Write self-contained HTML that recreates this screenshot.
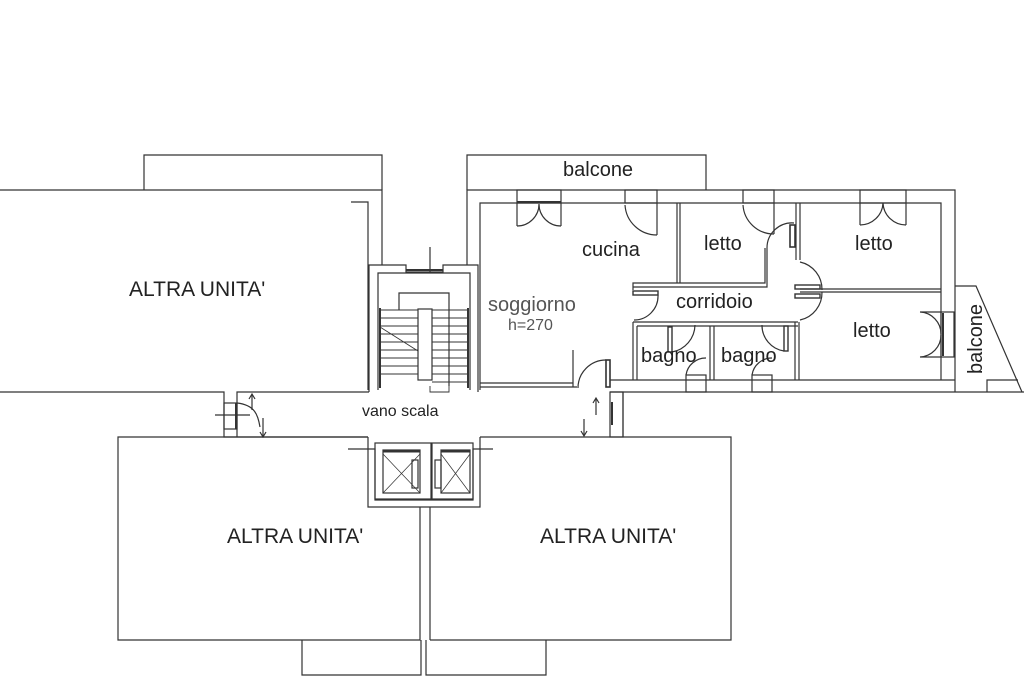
<!DOCTYPE html>
<html><head><meta charset="utf-8"><style>
html,body{margin:0;padding:0;background:#fff}
svg{display:block}
text{font-family:"Liberation Sans",sans-serif;fill:#222}
</style></head><body>
<svg width="1024" height="682" viewBox="0 0 1024 682" xmlns="http://www.w3.org/2000/svg">
<g fill="none" stroke="#333" stroke-width="1.2">
<polyline points="144,190 144,155 382,155 382,190"/>
<polyline points="0,190 382,190 382,265"/>
<polyline points="351,202 368,202 368,390"/>
<polyline points="0,392 224,392 224,437 237,437"/>
<polyline points="237,437 237,392 369,392"/>
<polyline points="369,392 369,265 406,265 406,272 443,272 443,265 478,265 478,392"/>
<line x1="430" y1="247" x2="430" y2="272"/>
<line x1="406" y1="270" x2="443" y2="270" stroke-width="2"/>
<polyline points="378,390 378,273 470,273 470,390"/>
<polyline points="399,310 399,293 449,293 449,386"/>
<rect x="418" y="309" width="14" height="71"/>
<line x1="380" y1="308" x2="380" y2="388" stroke-width="2"/>
<line x1="468" y1="308" x2="468" y2="388" stroke-width="2"/>
<g stroke-width="0.9">
<line x1="380" y1="310" x2="418" y2="310"/><line x1="380" y1="318" x2="418" y2="318"/><line x1="380" y1="326" x2="418" y2="326"/><line x1="380" y1="334" x2="418" y2="334"/><line x1="380" y1="342" x2="418" y2="342"/><line x1="380" y1="350" x2="418" y2="350"/><line x1="380" y1="358" x2="418" y2="358"/><line x1="380" y1="366" x2="418" y2="366"/><line x1="380" y1="374" x2="418" y2="374"/>
<line x1="432" y1="310" x2="468" y2="310"/><line x1="432" y1="318" x2="468" y2="318"/><line x1="432" y1="326" x2="468" y2="326"/><line x1="432" y1="334" x2="468" y2="334"/><line x1="432" y1="342" x2="468" y2="342"/><line x1="432" y1="350" x2="468" y2="350"/><line x1="432" y1="358" x2="468" y2="358"/><line x1="432" y1="366" x2="468" y2="366"/><line x1="432" y1="374" x2="468" y2="374"/><line x1="432" y1="382" x2="468" y2="382"/>
<line x1="380" y1="327" x2="418" y2="351"/>
<polyline points="430,386 430,392 449,392 449,386"/>
</g>
<polyline points="467,190 467,155 706,155 706,190"/>
<polyline points="467,265 467,190 955,190 955,392"/>
<polyline points="480,390 480,203 941,203 941,380"/>
<line x1="480" y1="383" x2="573" y2="383"/>
<line x1="480" y1="387" x2="577" y2="387"/>
<line x1="573" y1="350" x2="573" y2="387"/>
<polyline points="610,392 1024,392"/>
<line x1="610" y1="380" x2="955" y2="380"/>
<rect x="517" y="190" width="44" height="13"/>
<line x1="517" y1="202" x2="561" y2="202" stroke-width="2"/>
<path d="M517,226 A22,22 0 0 0 539,204 M561,226 A22,22 0 0 1 539,204"/>
<line x1="517" y1="203" x2="517" y2="226"/><line x1="561" y1="203" x2="561" y2="226"/>
<rect x="625" y="190" width="32" height="13"/>
<path d="M625,205 A32,32 0 0 0 657,235"/><line x1="657" y1="203" x2="657" y2="235"/>
<rect x="743" y="190" width="31" height="13"/>
<path d="M743,205 A31,31 0 0 0 774,234"/><line x1="774" y1="203" x2="774" y2="234"/>
<rect x="860" y="190" width="46" height="13"/>
<path d="M860,225 A23,23 0 0 0 883,203 M906,225 A23,23 0 0 1 883,203"/>
<line x1="860" y1="203" x2="860" y2="225"/><line x1="906" y1="203" x2="906" y2="225"/>
<line x1="677" y1="203" x2="677" y2="283"/><line x1="680" y1="203" x2="680" y2="283"/>
<polyline points="633,290 633,283 765,283 765,248"/>
<polyline points="633,287 767,287 767,248"/>
<line x1="796" y1="203" x2="796" y2="260"/><line x1="800" y1="203" x2="800" y2="260"/>
<rect x="790" y="225" width="5" height="22" stroke-width="1.6"/>
<path d="M767,248 A25,25 0 0 1 794,223"/>
<path d="M800,262 A28,28 0 0 1 822,290 M800,320 A28,28 0 0 0 822,292"/>
<line x1="800" y1="289" x2="941" y2="289"/><line x1="800" y1="292" x2="941" y2="292"/>
<rect x="795" y="285" width="25" height="4" stroke-width="1.4"/>
<rect x="795" y="294" width="25" height="4" stroke-width="1.4"/>
<rect x="633" y="291" width="25" height="4" stroke-width="1.4"/>
<path d="M658,295 A24,24 0 0 1 634,320"/>
<line x1="633" y1="322" x2="798" y2="322"/><line x1="637" y1="326" x2="798" y2="326"/>
<line x1="633" y1="322" x2="633" y2="380"/><line x1="637" y1="326" x2="637" y2="380"/>
<line x1="710" y1="326" x2="710" y2="380"/><line x1="714" y1="326" x2="714" y2="380"/>
<line x1="795" y1="322" x2="795" y2="380"/><line x1="799" y1="322" x2="799" y2="380"/>
<rect x="668" y="327" width="4" height="25" stroke-width="1.4"/>
<path d="M672,352 A28,28 0 0 0 695,325"/>
<rect x="784" y="326" width="4" height="25" stroke-width="1.4"/>
<path d="M762,325 A26,26 0 0 0 784,351"/>
<rect x="686" y="375" width="20" height="17"/><path d="M686,375 A20,20 0 0 1 706,358"/>
<rect x="752" y="375" width="20" height="17"/><path d="M752,375 A20,20 0 0 1 772,358"/>
<rect x="606" y="360" width="4" height="27" stroke-width="1.6"/>
<path d="M606,360 A28,28 0 0 0 578,388"/>
<rect x="610" y="392" width="13" height="45"/>
<line x1="612" y1="402" x2="612" y2="425" stroke-width="2"/>
<rect x="941" y="312" width="13" height="45"/>
<line x1="943" y1="313" x2="943" y2="356" stroke-width="2"/>
<path d="M941,312 L920,312 A22,22 0 0 1 941,334 M941,357 L920,357 A22,22 0 0 0 941,335"/>
<polyline points="955,286 976,286 1022,392"/>
<polyline points="987,392 987,380 1018,380"/>
<line x1="237" y1="437" x2="368" y2="437"/>
<line x1="480" y1="437" x2="623" y2="437"/>
<polyline points="623,437 731,437 731,640 430,640"/>
<line x1="623" y1="392" x2="623" y2="437"/>
<rect x="224" y="403" width="13" height="26"/>
<line x1="236" y1="403" x2="236" y2="429" stroke-width="2"/>
<line x1="215" y1="415" x2="250" y2="415"/>
<path d="M237,403 C255,405 258,415 260,427"/>
<path d="M252,410 L252,394 M249,399 L252,394 L255,399"/>
<path d="M263,418 L263,437 M260,432 L263,437 L266,432"/>
<path d="M596,415 L596,398 M593,403 L596,398 L599,403"/>
<path d="M584,419 L584,436 M581,431 L584,436 L587,431"/>
<polyline points="348,449 368,449 368,507 480,507 480,449 493,449"/>
<polyline points="368,437 368,449 375,449 375,500 473,500 473,449 480,449 480,437"/>
<rect x="375" y="443" width="56" height="56"/>
<rect x="432" y="443" width="41" height="56"/>
<rect x="383" y="450" width="37" height="43"/>
<rect x="441" y="450" width="29" height="43"/>
<line x1="383" y1="451" x2="420" y2="451" stroke-width="3"/>
<line x1="441" y1="451" x2="470" y2="451" stroke-width="3"/>
<path d="M383,454 L420,493 M420,454 L383,493 M441,454 L470,493 M470,454 L441,493" stroke-width="0.7"/>
<rect x="412" y="460" width="6" height="28"/>
<rect x="435" y="460" width="6" height="28"/>
<polyline points="368,437 118,437 118,640 420,640 420,507"/>
<polyline points="430,640 430,507"/>
<polyline points="302,640 302,675 421,675 421,640"/>
<polyline points="426,640 426,675 546,675 546,640"/>
</g>
<g font-size="21">
<text x="129" y="296">ALTRA UNITA'</text>
<text x="227" y="543">ALTRA UNITA'</text>
<text x="540" y="543">ALTRA UNITA'</text>
</g>
<g font-size="20">
<text x="563" y="176">balcone</text>
<text x="582" y="256">cucina</text>
<text x="704" y="250">letto</text>
<text x="855" y="250">letto</text>
<text x="853" y="337">letto</text>
<text x="488" y="311" style="fill:#555">soggiorno</text>
<text x="676" y="308">corridoio</text>
<text x="641" y="362">bagno</text>
<text x="721" y="362">bagno</text>
<text x="982" y="374" transform="rotate(-90 982 374)">balcone</text>
</g>
<text x="508" y="330" font-size="16" style="fill:#555">h=270</text>
<text x="362" y="416" font-size="16">vano scala</text>
</svg>
</body></html>
